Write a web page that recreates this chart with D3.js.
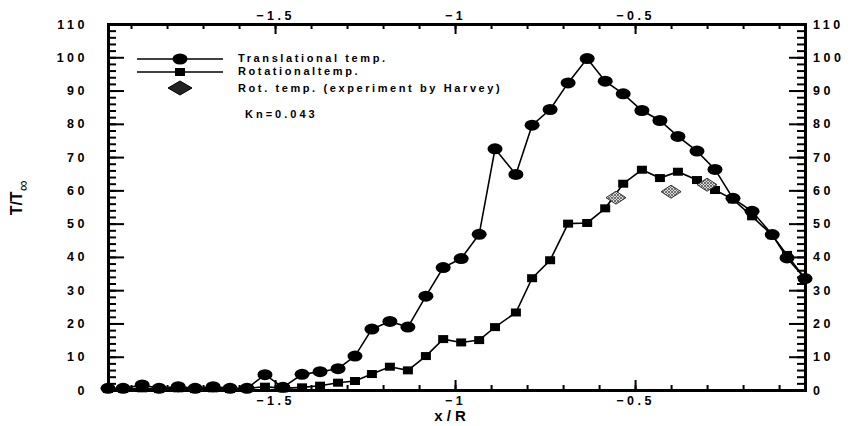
<!DOCTYPE html>
<html>
<head>
<meta charset="utf-8">
<script src="https://cdn.jsdelivr.net/npm/d3@7"></script>
<style>
  body { margin: 0; background: #fff; }
  text { font-family: "Liberation Sans", Arial, sans-serif; font-weight: bold; fill: #000; }
</style>
</head>
<body>
<svg id="chart" width="855" height="426"></svg>
<script>
// x / R positions of the computed points (both series share the grid)
const xPos = [-1.964, -1.922, -1.869, -1.822, -1.769, -1.722, -1.672, -1.625, -1.578, -1.528,
              -1.478, -1.425, -1.375, -1.325, -1.278, -1.231, -1.181, -1.131, -1.081, -1.033,
              -0.983, -0.933, -0.889, -0.831, -0.786, -0.736, -0.686, -0.633, -0.583, -0.533,
              -0.481, -0.431, -0.381, -0.328, -0.278, -0.228, -0.175, -0.119, -0.078, -0.028];
const transTemp = [0.5, 0.5, 1.5, 0.5, 1, 0.5, 1, 0.5, 0.5, 4.6,
                   0.8, 4.7, 5.5, 6.4, 10.2, 18.3, 20.6, 18.9, 28.2, 36.8,
                   39.5, 46.8, 72.5, 64.8, 79.6, 84.3, 92.3, 99.6, 92.8, 89,
                   84, 81, 76.2, 71.8, 66.3, 57.6, 53.7, 46.7, 39.7, 33.5];
const rotTemp = [0.3, 0.3, 0.5, 0.3, 0.5, 0.3, 0.5, 0.3, 0.5, 1,
                 0.5, 0.8, 1.3, 2.2, 2.7, 4.8, 7, 5.9, 10.2, 15.3,
                 14.3, 15, 18.9, 23.3, 33.6, 39, 50, 50.2, 54.6, 62,
                 66.2, 63.7, 65.6, 63.1, 60.1, 57.3, 52.2, 46.5, 40.6, 33.5];
// experiment by Harvey
const harveyX = [-0.553, -0.4, -0.3];
const harveyT = [57.8, 59.6, 61.7];

const yMajor = d3.range(0, 111, 10);
const yMinor = d3.range(0, 111, 2);
const xMajor = [-1.5, -1, -0.5];
const xMinor = [-1.9, -1.8, -1.7, -1.6, -1.5, -1.4, -1.3, -1.2, -1.1, -1.0,
                -0.9, -0.8, -0.7, -0.6, -0.5, -0.4, -0.3, -0.2, -0.1];

const legendNames = ["Translational temp.", "Rotationaltemp.", "Rot. temp. (experiment by Harvey)"];
const knLabel = "Kn=0.043";

const svg = d3.select("#chart");
const plotL = 108, plotR = 805, plotT = 24, plotB = 390;

const x = d3.scaleLinear().domain([-1.964, -0.028]).range([plotL, plotR]);
const y = d3.scaleLinear().domain([0, 110]).range([plotB, plotT]);

// hatched fill for the experimental diamonds
const defs = svg.append("defs");
const pat = defs.append("pattern").attr("id", "hatch")
    .attr("width", 3).attr("height", 3).attr("patternUnits", "userSpaceOnUse");
pat.append("rect").attr("width", 3).attr("height", 3).attr("fill", "#d8d8d8");
pat.append("path").attr("d", "M0,0L3,3M3,0L0,3").attr("stroke", "#555").attr("stroke-width", 0.8);

function styleAxis(g, width) {
    g.select(".domain").attr("stroke", "#000").attr("stroke-width", width);
    g.selectAll(".tick line").attr("stroke", "#000").attr("stroke-width", 2);
    g.selectAll("text")
        .style("font-family", "'Liberation Sans', Arial, sans-serif")
        .style("font-weight", "bold")
        .style("font-size", "12.5px")
        .style("letter-spacing", "3.5px")
        .attr("fill", "#000");
}

// left axis
svg.append("g").attr("transform", "translate(" + plotL + ",0)")
    .call(d3.axisLeft(y).tickValues(yMinor).tickSize(-8).tickFormat(""))
    .call(styleAxis, 3);
svg.append("g").attr("transform", "translate(" + plotL + ",0)")
    .call(d3.axisLeft(y).tickValues(yMajor).tickSize(-16).tickPadding(20))
    .call(styleAxis, 3);

// right axis
svg.append("g").attr("transform", "translate(" + plotR + ",0)")
    .call(d3.axisRight(y).tickValues(yMinor).tickSize(-8).tickFormat(""))
    .call(styleAxis, 3);
svg.append("g").attr("transform", "translate(" + plotR + ",0)")
    .call(d3.axisRight(y).tickValues(yMajor).tickSize(-16).tickPadding(8))
    .call(styleAxis, 3);

// top axis
svg.append("g").attr("transform", "translate(0," + plotT + ")")
    .call(d3.axisTop(x).tickValues(xMinor).tickSize(-5).tickFormat(""))
    .call(styleAxis, 3);
svg.append("g").attr("transform", "translate(0," + plotT + ")")
    .call(d3.axisTop(x).tickValues(xMajor).tickSize(-10).tickPadding(4).tickFormat(d3.format("")))
    .call(styleAxis, 3);

// bottom axis
svg.append("g").attr("transform", "translate(0," + plotB + ")")
    .call(d3.axisBottom(x).tickValues(xMinor).tickSize(-5).tickFormat(""))
    .call(styleAxis, 3);
svg.append("g").attr("transform", "translate(0," + plotB + ")")
    .call(d3.axisBottom(x).tickValues(xMajor).tickSize(-10).tickPadding(6).tickFormat(d3.format("")))
    .call(styleAxis, 3);

// nudge labels for the trailing letter-spacing
svg.selectAll(".tick text").attr("dx", function () {
    return d3.select(this).attr("text-anchor") === "middle" ? "1.75px" : null;
});

// axis titles
svg.append("text")
    .attr("transform", "translate(22,198) rotate(-90)")
    .attr("text-anchor", "middle")
    .style("font-size", "16px")
    .text("T/T")
    .append("tspan").attr("dy", 6).style("font-size", "15px").style("font-weight", "normal").text("∞");

svg.append("text")
    .attr("x", 450).attr("y", 421)
    .attr("text-anchor", "middle")
    .style("font-size", "15px")
    .text("x / R");

const line = d3.line().x((d, i) => x(xPos[i])).y(d => y(d));

// rotational temperature
svg.append("path").datum(rotTemp)
    .attr("d", line).attr("fill", "none").attr("stroke", "#000").attr("stroke-width", 1.6);
svg.selectAll(".sq").data(rotTemp).enter().append("rect")
    .attr("class", "sq")
    .attr("x", (d, i) => x(xPos[i]) - 5).attr("y", d => y(d) - 4)
    .attr("width", 10).attr("height", 8).attr("fill", "#000");

// translational temperature
svg.append("path").datum(transTemp)
    .attr("d", line).attr("fill", "none").attr("stroke", "#000").attr("stroke-width", 1.6);
svg.selectAll(".circ").data(transTemp).enter().append("ellipse")
    .attr("class", "circ")
    .attr("cx", (d, i) => x(xPos[i])).attr("cy", d => y(d))
    .attr("rx", 7.5).attr("ry", 5.5).attr("fill", "#000");

// experiment diamonds
function diamond(cx, cy, w, h) {
    return "M" + (cx - w / 2) + "," + cy + "L" + cx + "," + (cy - h / 2) +
        "L" + (cx + w / 2) + "," + cy + "L" + cx + "," + (cy + h / 2) + "Z";
}
svg.selectAll(".dia").data(harveyT).enter().append("path")
    .attr("class", "dia")
    .attr("d", (d, i) => diamond(x(harveyX[i]), y(d), 20, 13))
    .attr("fill", "url(#hatch)").attr("stroke", "#333").attr("stroke-width", 1);

// legend
const lg = svg.append("g");
lg.append("line").attr("x1", 137).attr("x2", 223).attr("y1", 59).attr("y2", 59)
    .attr("stroke", "#000").attr("stroke-width", 1.6);
lg.append("ellipse").attr("cx", 180).attr("cy", 59).attr("rx", 7.5).attr("ry", 5.5).attr("fill", "#000");
lg.append("line").attr("x1", 137).attr("x2", 223).attr("y1", 72).attr("y2", 72)
    .attr("stroke", "#000").attr("stroke-width", 1.6);
lg.append("rect").attr("x", 175).attr("y", 68).attr("width", 10).attr("height", 8).attr("fill", "#000");
lg.append("path").attr("d", diamond(180, 88, 24, 14))
    .attr("fill", "#222").attr("stroke", "#000").attr("stroke-width", 1);

const legendY = [62, 75, 91.5];
lg.selectAll(".lt").data(legendNames).enter().append("text")
    .attr("class", "lt")
    .attr("x", 238).attr("y", (d, i) => legendY[i])
    .style("font-size", "11px")
    .style("letter-spacing", "2.6px")
    .text(d => d);

lg.append("text")
    .attr("x", 245).attr("y", 118)
    .style("font-size", "11px")
    .style("letter-spacing", "3px")
    .text(knLabel);
</script>
</body>
</html>
